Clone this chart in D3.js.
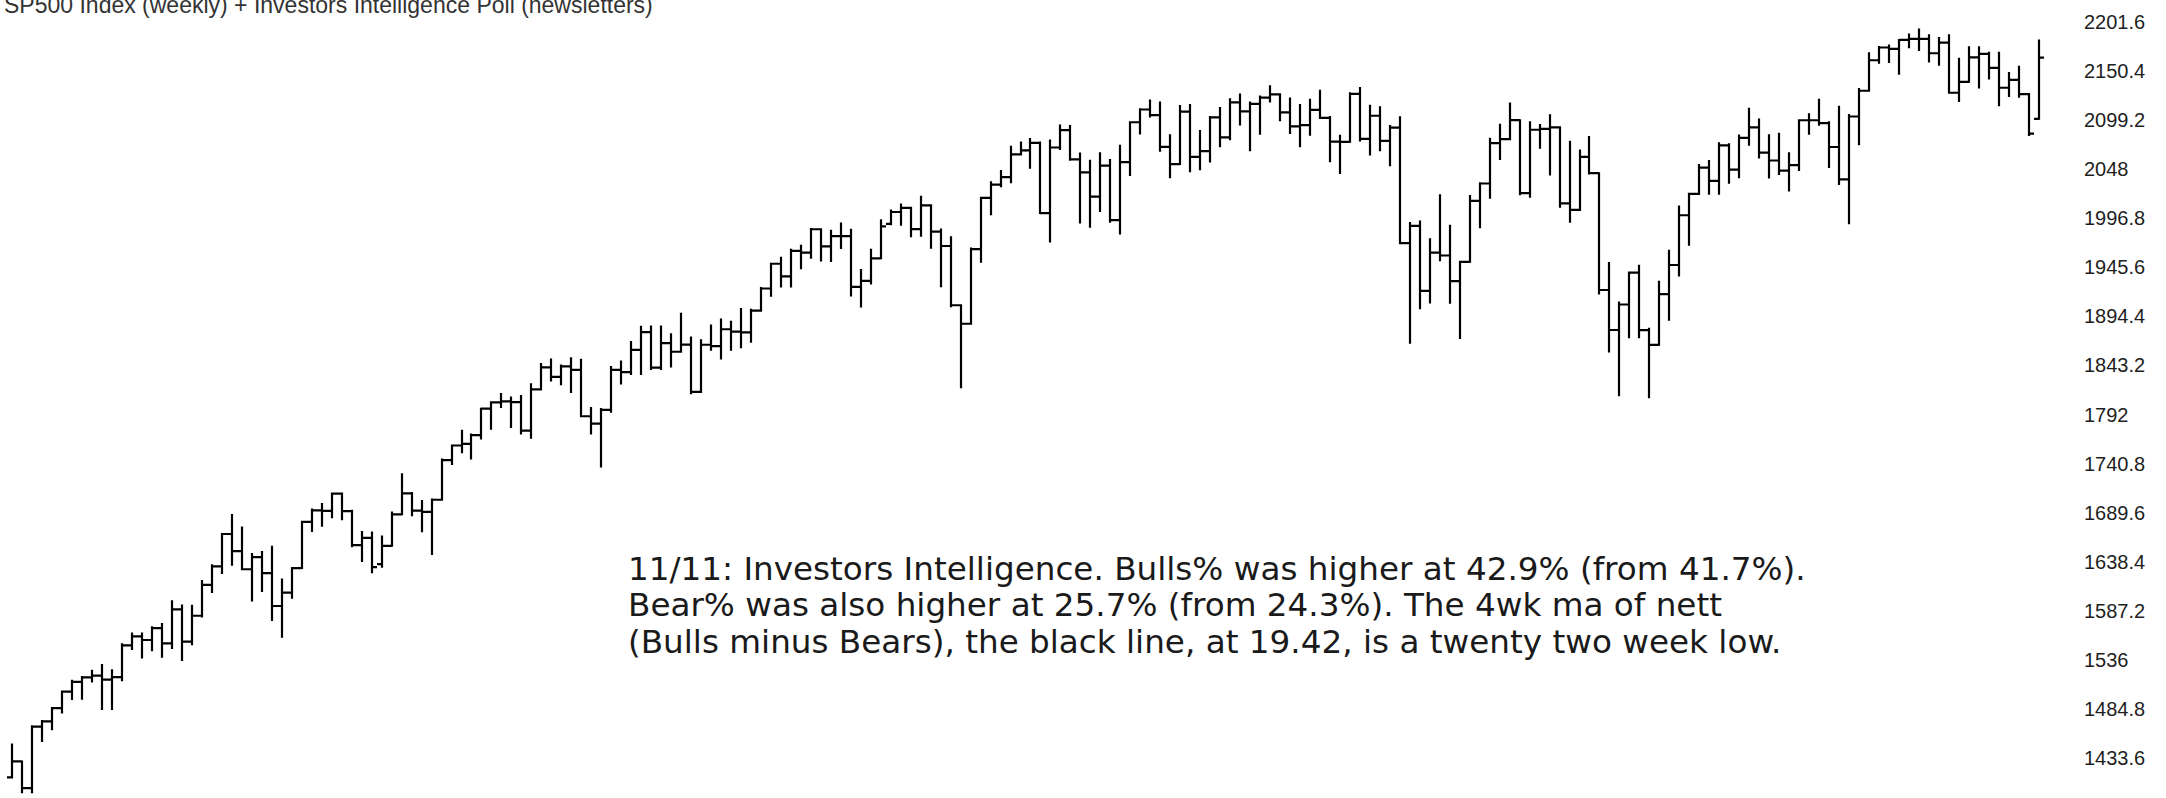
<!DOCTYPE html>
<html>
<head>
<meta charset="utf-8">
<script src="https://cdn.jsdelivr.net/npm/d3@7"></script>
<style>
  html, body { margin: 0; padding: 0; background: #fff; overflow: hidden; }
</style>
</head>
<body>
<svg id="chart"></svg>
<script>
// weekly SP500 bars, Dec 2012 -> 11 Nov 2016
const title = 'SP500 Index (weekly) + Investors Intelligence Poll  (newsletters)';

const noteLines = [
  '11/11: Investors Intelligence. Bulls% was higher at 42.9% (from 41.7%).',
  'Bear% was also higher at 25.7% (from 24.3%). The 4wk ma of nett',
  '(Bulls minus Bears), the black line, at 19.42, is a twenty two week low.'
];

const yTicks = [2201.6, 2150.4, 2099.2, 2048, 1996.8, 1945.6, 1894.4, 1843.2,
  1792, 1740.8, 1689.6, 1638.4, 1587.2, 1536, 1484.8, 1433.6];

const opens = [
  1413.5,1430.2,1402.4,1466.5,1472.1,1485.9,1503.0,1513.2,1517.9,1519.8,
  1515.6,1518.2,1551.2,1560.7,1556.9,1569.2,1553.3,1588.9,1555.3,1582.2,
  1614.4,1633.7,1667.5,1649.6,1630.7,1643.4,1626.7,1592.4,1606.3,1631.9,
  1680.2,1692.1,1691.7,1709.7,1691.4,1655.8,1663.5,1636.0,1655.2,1688.0,
  1709.9,1691.8,1690.5,1703.2,1744.5,1759.8,1761.6,1770.6,1798.2,1804.8,
  1805.8,1805.1,1775.3,1818.3,1841.4,1831.4,1842.4,1838.7,1790.3,1782.6,
  1797.0,1838.6,1836.3,1859.5,1878.0,1841.1,1866.5,1857.6,1865.1,1815.7,
  1864.9,1863.4,1881.1,1878.5,1877.9,1900.5,1923.6,1949.4,1936.2,1962.9,
  1961.0,1985.4,1967.6,1978.2,1978.3,1925.2,1931.6,1955.1,1991.0,2003.4,
  2007.7,1985.5,2010.4,1982.9,1967.9,1906.1,1886.8,1964.6,2018.1,2031.9,
  2039.8,2063.5,2067.6,2075.4,2002.3,2070.7,2088.8,2058.2,2044.8,2019.4,
  2051.8,1995.0,2055.5,2097.0,2110.3,2104.5,2071.3,2053.4,2108.1,2061.0,
  2067.0,2102.1,2081.2,2117.7,2108.3,2116.1,2122.7,2126.1,2107.4,2092.8,
  2094.1,2110.0,2101.5,2076.8,2076.6,2126.6,2079.7,2103.8,2077.6,2091.5,
  1970.9,1988.9,1921.2,1961.1,1958.0,1931.3,1951.4,2014.9,2033.1,2075.2,
  2079.4,2099.2,2023.0,2089.2,2090.1,2091.7,2012.4,2005.6,2061.0,2043.9,
  1922.0,1880.3,1906.9,1940.2,1880.1,1864.8,1917.8,1948.1,2000.0,2022.2,
  2049.6,2035.9,2072.8,2047.6,2080.7,2091.6,2065.3,2057.1,2046.6,2052.3,
  2099.1,2099.1,2096.1,2071.2,2037.4,2103.0,2129.9,2161.7,2175.0,2173.6,
  2182.9,2184.1,2183.9,2169.0,2180.0,2127.8,2139.2,2164.7,2168.3,2153.7,
  2133.0,2141.2,2126.4,2100.6
];

const highs = [
  1448.0,1430.2,1467.0,1472.3,1485.9,1503.3,1514.4,1518.3,1524.7,1530.9,
  1525.3,1552.5,1563.6,1563.6,1570.3,1573.7,1597.4,1593.0,1592.6,1618.5,
  1635.0,1667.5,1687.2,1674.2,1646.5,1648.7,1654.2,1620.1,1632.1,1680.2,
  1693.1,1698.8,1709.7,1709.7,1691.7,1669.5,1669.0,1664.8,1690.0,1729.9,
  1710.2,1701.9,1703.4,1745.3,1759.8,1775.2,1771.3,1798.2,1804.8,1813.6,
  1810.0,1811.5,1823.8,1844.9,1849.4,1843.2,1850.8,1849.2,1798.8,1798.0,
  1841.7,1847.5,1867.9,1883.6,1884.0,1884.0,1875.9,1897.3,1872.5,1869.6,
  1884.9,1891.3,1889.0,1902.2,1901.3,1924.2,1949.4,1955.6,1963.9,1968.2,
  1985.6,1985.4,1983.9,1991.4,1984.9,1942.9,1964.0,1994.8,2005.0,2011.2,
  2007.7,2019.3,2010.4,1985.2,1977.1,1906.1,1965.3,2018.2,2034.3,2046.2,
  2071.5,2075.8,2079.5,2075.8,2077.9,2093.6,2093.0,2064.4,2056.9,2064.6,
  2057.6,2072.4,2097.0,2110.6,2119.6,2117.5,2083.5,2113.9,2114.9,2088.0,
  2102.6,2111.9,2120.9,2125.9,2117.7,2123.9,2134.7,2126.2,2121.9,2115.0,
  2120.5,2129.9,2102.6,2083.0,2127.3,2132.8,2114.2,2112.7,2093.0,2102.3,
  1992.0,1993.5,1975.0,2020.9,1989.0,1951.4,2020.1,2033.5,2079.7,2094.3,
  2116.5,2099.2,2097.1,2094.1,2104.3,2091.7,2076.7,2067.6,2081.6,2043.9,
  1950.3,1908.9,1940.2,1947.2,1881.6,1930.7,1963.0,2009.1,2022.4,2052.4,
  2056.6,2075.1,2074.0,2083.1,2111.1,2099.9,2083.4,2084.9,2064.6,2099.1,
  2105.3,2120.6,2097.0,2113.3,2104.7,2131.7,2169.1,2175.6,2177.1,2182.9,
  2188.5,2193.8,2187.9,2184.9,2187.9,2163.3,2175.3,2175.3,2169.6,2169.6,
  2148.4,2154.8,2126.4,2182.3
];

const lows = [
  1413.5,1398.1,1398.1,1451.6,1463.8,1481.2,1495.3,1495.5,1513.6,1485.0,
  1485.0,1514.8,1547.4,1538.6,1546.2,1539.5,1548.6,1536.0,1552.6,1581.3,
  1607.1,1626.7,1635.5,1630.7,1598.2,1608.1,1577.7,1560.3,1601.1,1631.9,
  1670.7,1676.0,1684.9,1683.0,1654.8,1639.4,1627.5,1633.4,1655.2,1688.0,
  1687.1,1670.4,1646.5,1703.2,1740.5,1752.7,1746.2,1767.0,1777.2,1800.0,
  1779.1,1772.3,1768.0,1818.3,1827.7,1823.7,1815.5,1790.3,1772.3,1737.9,
  1795.0,1824.6,1834.4,1834.4,1839.6,1839.6,1842.1,1857.6,1814.4,1815.7,
  1859.7,1850.6,1859.8,1862.4,1868.1,1900.4,1916.0,1925.8,1925.8,1944.7,
  1955.6,1952.9,1952.4,1965.8,1916.4,1904.8,1928.7,1955.1,1990.5,1990.1,
  1978.2,1978.5,1966.0,1926.0,1905.0,1820.7,1886.8,1951.4,2001.0,2030.2,
  2034.5,2063.5,2049.6,2002.3,1972.6,2069.0,2058.0,1992.4,1988.1,2004.5,
  1993.3,1980.9,2041.9,2085.4,2103.0,2067.3,2039.7,2053.4,2045.8,2048.0,
  2056.0,2072.0,2079.3,2094.6,2067.9,2085.0,2118.6,2099.1,2085.7,2072.1,
  2084.1,2101.5,2056.3,2044.0,2076.6,2077.9,2063.5,2067.9,2052.1,1970.9,
  1867.0,1903.1,1909.0,1953.0,1908.8,1871.9,1951.4,1987.5,2018.2,2058.8,
  2079.4,2022.0,2019.4,2070.3,2042.4,2008.8,1993.3,2005.6,2043.6,1918.5,
  1857.8,1812.3,1872.7,1872.7,1810.1,1864.8,1891.0,1937.1,1969.3,2022.2,
  2022.5,2022.5,2033.8,2039.7,2073.5,2060.2,2039.5,2043.1,2025.9,2047.3,
  2085.1,2094.4,2050.4,2032.6,1991.7,2074.0,2129.9,2159.0,2159.8,2147.6,
  2175.2,2172.4,2160.4,2157.1,2127.8,2119.1,2139.2,2133.4,2142.6,2114.7,
  2124.4,2123.6,2083.8,2100.6
];

const closes = [
  1430.2,1402.4,1466.5,1472.1,1485.9,1503.0,1513.2,1517.9,1519.8,1515.6,
  1518.2,1551.2,1560.7,1556.9,1569.2,1553.3,1588.9,1555.3,1582.2,1614.4,
  1633.7,1667.5,1649.6,1630.7,1643.4,1626.7,1592.4,1606.3,1631.9,1680.2,
  1692.1,1691.7,1709.7,1691.4,1655.8,1663.5,1633.0,1655.2,1688.0,1709.9,
  1691.8,1690.5,1703.2,1744.5,1759.8,1761.6,1770.6,1798.2,1804.8,1805.8,
  1805.1,1775.3,1818.3,1841.4,1831.4,1842.4,1838.7,1790.3,1782.6,1797.0,
  1838.6,1836.3,1859.5,1878.0,1841.1,1866.5,1857.6,1865.1,1815.7,1864.9,
  1863.4,1881.1,1878.5,1877.9,1900.5,1923.6,1949.4,1936.2,1962.9,1961.0,
  1985.4,1967.6,1978.2,1978.3,1925.2,1931.6,1955.1,1988.4,2003.4,2007.7,
  1985.5,2010.4,1982.9,1967.9,1906.1,1886.8,1964.6,2018.1,2031.9,2039.8,
  2063.5,2067.6,2075.4,2002.3,2070.7,2088.8,2058.2,2044.8,2019.4,2051.8,
  1995.0,2055.5,2097.0,2110.3,2104.5,2071.3,2053.4,2108.1,2061.0,2067.0,
  2102.1,2081.2,2117.7,2108.3,2116.1,2122.7,2126.1,2107.4,2092.8,2094.1,
  2110.0,2101.5,2076.8,2076.6,2126.6,2079.7,2103.8,2077.6,2091.5,1970.9,
  1988.9,1921.2,1961.1,1958.0,1931.3,1951.4,2014.9,2033.1,2075.2,2079.4,
  2099.2,2023.0,2089.2,2090.1,2091.7,2012.4,2005.6,2061.0,2043.9,1922.0,
  1880.3,1906.9,1940.2,1880.1,1864.8,1917.8,1948.1,2000.0,2022.2,2049.6,
  2035.9,2072.8,2047.6,2080.7,2091.6,2065.3,2057.1,2046.6,2052.3,2099.1,
  2099.1,2096.1,2071.2,2037.4,2103.0,2129.9,2161.7,2175.0,2173.6,2182.9,
  2184.1,2183.9,2169.0,2180.0,2127.8,2139.2,2164.7,2168.3,2153.7,2133.0,
  2141.2,2126.4,2085.2,2164.5
];

const width = 2166, height = 798;

const svg = d3.select('#chart')
  .attr('width', width)
  .attr('height', height)
  .style('display', 'block');

const bars = closes.map((c, i) => ({ i, o: opens[i], h: highs[i], l: lows[i], c }));

const x = d3.scaleLinear()
  .domain([0, bars.length - 1])
  .range([12.3, 2038.7]);

const y = d3.scaleLinear()
  .domain([1433.6, 2201.6])
  .range([758.2, 22]);

const tick = 5;

// OHLC bars: high-low stem, open tick left, close tick right
svg.append('g')
  .selectAll('path')
  .data(bars)
  .join('path')
  .attr('d', d => {
    const cx = Math.round(x(d.i));
    return `M${cx},${y(d.h) - 1}V${y(d.l) + 1}` +
      `M${cx - tick},${y(d.o)}H${cx}` +
      `M${cx},${y(d.c)}H${cx + tick}`;
  })
  .attr('fill', 'none')
  .attr('stroke', '#000')
  .attr('stroke-width', 2.2);

// price labels on the right, no axis line
const yAxis = svg.append('g')
  .attr('transform', 'translate(2084,0)')
  .call(d3.axisRight(y)
    .tickValues(yTicks)
    .tickSize(0)
    .tickPadding(0)
    .tickFormat(d => String(+d.toFixed(1))));

yAxis.select('.domain').remove();
yAxis.selectAll('text')
  .attr('font-family', '"Liberation Sans", Arial, sans-serif')
  .attr('font-size', 20)
  .attr('fill', '#1e1e1e');

// title, partly cut by the top edge as in the source
svg.append('text')
  .attr('x', 4)
  .attr('y', 12.5)
  .attr('font-family', '"Liberation Sans", Arial, sans-serif')
  .attr('font-size', 23)
  .attr('fill', '#333')
  .text(title);

// comment block
const note = svg.append('g')
  .attr('font-family', '"DejaVu Sans", Verdana, sans-serif')
  .attr('font-size', 25)
  .attr('fill', '#1a1a1a');

const noteY = [569, 605, 642];
note.selectAll('text')
  .data(noteLines)
  .join('text')
  .attr('x', 628)
  .attr('y', (d, i) => noteY[i])
  .attr('dominant-baseline', 'central')
  .text(d => d);

// size the note so the first line spans like the original
const w0 = note.select('text').node().getComputedTextLength();
note.attr('font-size', 25 * 1178 / w0);
</script>
</body>
</html>
